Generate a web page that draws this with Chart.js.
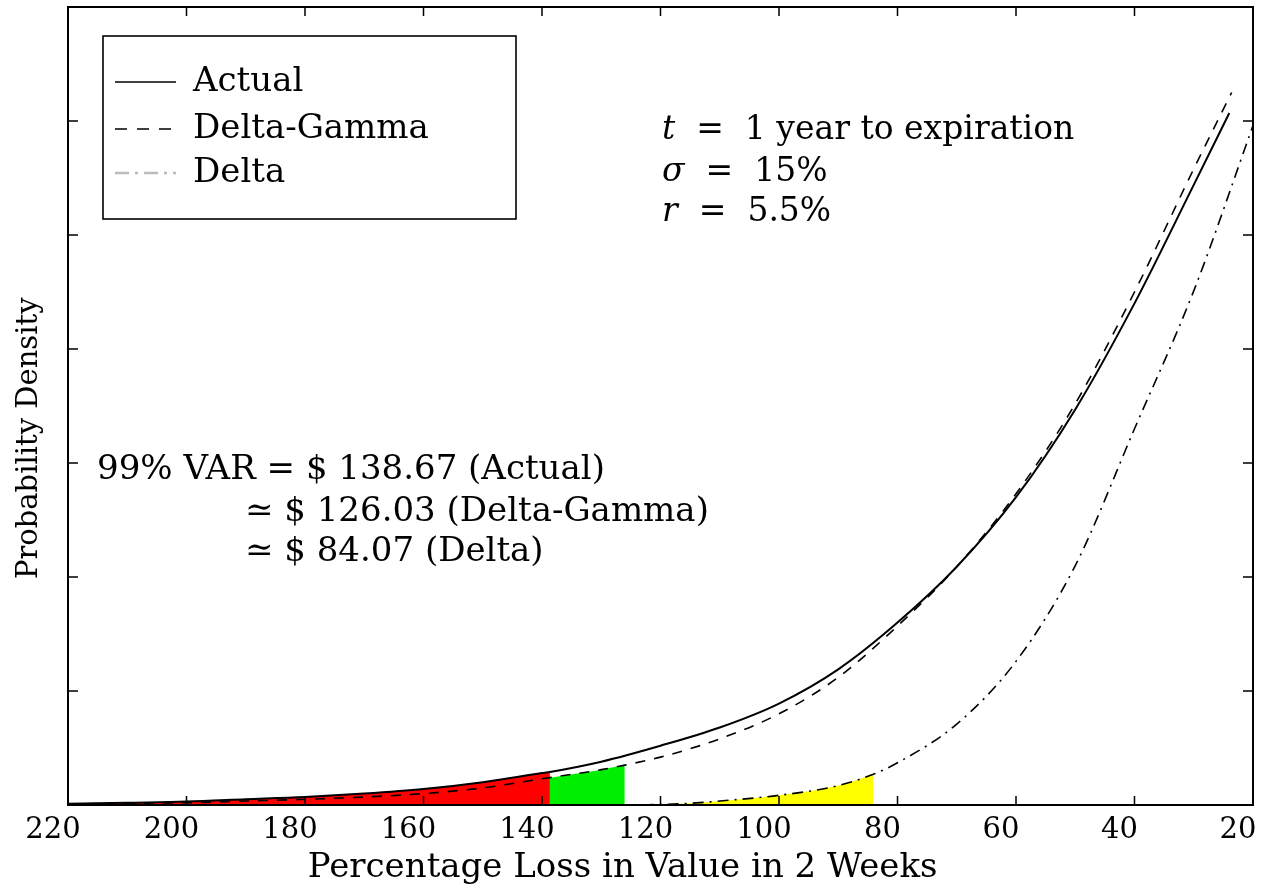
<!DOCTYPE html>
<html lang="en">
<head>
    <meta charset="UTF-8">
    <title>Probability Density of Percentage Loss</title>
    <script src="https://cdn.jsdelivr.net/npm/chart.js"></script>
    <style>
        body {
            margin: 0;
            background-color: #ffffff;
        }
        #chart-container {
            width: 1266px;
            height: 893px;
        }
    </style>
</head>
<body>
    <div id="chart-container">
        <canvas id="varChart"></canvas>
    </div>
    <script>
        // values (x = percentage loss, y = density in tick units)
        const actualLoss = [220, 210, 200, 190, 180, 170, 160, 150, 140, 138.67, 130, 120, 110, 100, 90, 80, 70, 60, 50, 40, 30, 24];
        const actualDensity = [0.01, 0.02, 0.03, 0.05, 0.07, 0.10, 0.14, 0.20, 0.28, 0.29, 0.38, 0.52, 0.68, 0.89, 1.19, 1.60, 2.09, 2.70, 3.47, 4.40, 5.44, 6.07];

        const deltaGammaLoss = [220, 210, 200, 190, 180, 170, 160, 150, 140, 138.67, 130, 126.03, 120, 110, 100, 90, 80, 70, 60, 50, 40, 30, 23.6];
        const deltaGammaDensity = [0.01, 0.015, 0.02, 0.035, 0.05, 0.07, 0.10, 0.15, 0.23, 0.24, 0.31, 0.35, 0.42, 0.58, 0.80, 1.12, 1.57, 2.09, 2.73, 3.52, 4.50, 5.58, 6.25];

        const deltaLoss = [123, 115, 110, 100, 90, 84.07, 80, 70, 60, 50, 40, 30, 20];
        const deltaDensity = [0.0, 0.015, 0.035, 0.085, 0.17, 0.27, 0.37, 0.71, 1.26, 2.10, 3.30, 4.51, 5.96];

        const varActual = 138.67;
        const varDeltaGamma = 126.03;
        const varDelta = 84.07;

        const xTicks = [220, 200, 180, 160, 140, 120, 100, 80, 60, 40, 20];

        const serif = '"DejaVu Serif", "Liberation Serif", serif';

        function toPoints(xs, ys) {
            return xs.map((x, i) => ({ x: x, y: ys[i] }));
        }
        function between(points, lo, hi) {
            return points.filter(p => p.x >= lo - 1e-9 && p.x <= hi + 1e-9);
        }

        const actualPts = toPoints(actualLoss, actualDensity);
        const dgPts = toPoints(deltaGammaLoss, deltaGammaDensity);
        const deltaPts = toPoints(deltaLoss, deltaDensity);

        const lineBase = {
            fill: false,
            pointRadius: 0,
            borderColor: '#000000',
            cubicInterpolationMode: 'monotone',
            order: 0
        };
        const fillBase = {
            fill: 'origin',
            pointRadius: 0,
            borderWidth: 0,
            borderColor: 'rgba(0,0,0,0)',
            cubicInterpolationMode: 'monotone',
            order: 10
        };

        // frame, inward tick marks, legend box and text notes
        const decorations = {
            id: 'decorations',
            afterDatasetsDraw(chart) {
                const ctx = chart.ctx;
                const a = chart.chartArea;
                const xs = chart.scales.x;
                const ys = chart.scales.y;
                ctx.save();
                ctx.strokeStyle = '#000';
                ctx.lineWidth = 2;
                ctx.strokeRect(a.left, a.top, a.right - a.left, a.bottom - a.top);
                ctx.lineWidth = 1.5;
                ctx.beginPath();
                xs.ticks.forEach(t => {
                    const px = xs.getPixelForValue(t.value);
                    ctx.moveTo(px, a.bottom); ctx.lineTo(px, a.bottom - 9);
                    ctx.moveTo(px, a.top); ctx.lineTo(px, a.top + 9);
                });
                ys.ticks.forEach(t => {
                    const py = ys.getPixelForValue(t.value);
                    ctx.moveTo(a.left, py); ctx.lineTo(a.left + 10, py);
                    ctx.moveTo(a.right, py); ctx.lineTo(a.right - 10, py);
                });
                ctx.stroke();
                ctx.restore();
            },
            afterDraw(chart) {
                const ctx = chart.ctx;
                const a = chart.chartArea;
                ctx.save();
                // legend
                const bx = a.left + 35, by = a.top + 29;
                ctx.lineWidth = 1.6;
                ctx.strokeStyle = '#000';
                ctx.strokeRect(bx, by, 413, 183);
                const rows = [
                    { label: 'Actual', dash: [], color: '#000', y: 82 },
                    { label: 'Delta-Gamma', dash: [12, 10], color: '#000', y: 129 },
                    { label: 'Delta', dash: [14, 6, 3, 6], color: '#bbbbbb', y: 173 }
                ];
                ctx.font = '34px ' + serif;
                ctx.textBaseline = 'middle';
                ctx.fillStyle = '#000';
                rows.forEach(r => {
                    ctx.beginPath();
                    ctx.setLineDash(r.dash);
                    ctx.strokeStyle = r.color;
                    ctx.lineWidth = r.color === '#000' ? 1.5 : 2.5;
                    ctx.moveTo(115, r.y);
                    ctx.lineTo(176, r.y);
                    ctx.stroke();
                    ctx.fillText(r.label, 193, r.y);
                });
                ctx.setLineDash([]);

                // text runs: [text, italic]
                function runs(parts, x, y, size) {
                    parts.forEach(p => {
                        ctx.font = (p[1] ? 'italic ' : '') + size + 'px ' + serif;
                        ctx.fillText(p[0], x, y);
                        x += ctx.measureText(p[0]).width;
                    });
                }
                runs([['t', true], ['  =  1 year to expiration', false]], 662, 130, 33);
                runs([['σ', true], ['  =  15%', false]], 662, 172, 33);
                runs([['r', true], ['  =  5.5%', false]], 662, 212, 33);

                runs([['99% VAR = $ 138.67 (Actual)', false]], 97, 470, 34);
                runs([['≃ $ 126.03 (Delta-Gamma)', false]], 245, 512, 34);
                runs([['≃ $ 84.07 (Delta)', false]], 245, 552, 34);
                ctx.restore();
            }
        };

        const ctx = document.getElementById('varChart').getContext('2d');
        const config = {
            type: 'line',
            data: {
                datasets: [
                    Object.assign({}, lineBase, { label: 'Actual', data: actualPts, borderWidth: 2 }),
                    Object.assign({}, lineBase, { label: 'Delta-Gamma', data: dgPts, borderWidth: 1.6, borderDash: [10, 9] }),
                    Object.assign({}, lineBase, { label: 'Delta', data: deltaPts, borderWidth: 1.6, borderDash: [11, 6, 2, 6] }),
                    Object.assign({}, fillBase, { label: 'red', data: between(actualPts, varActual, 220), backgroundColor: '#ff0000' }),
                    Object.assign({}, fillBase, { label: 'green', data: between(dgPts, varDeltaGamma, varActual), backgroundColor: '#00ee00' }),
                    Object.assign({}, fillBase, { label: 'yellow', data: between(deltaPts, varDelta, 220), backgroundColor: '#ffff00' })
                ]
            },
            options: {
                responsive: true,
                maintainAspectRatio: false,
                animation: false,
                layout: { padding: { top: 7, right: 13, left: 0, bottom: 0 } },
                scales: {
                    x: {
                        type: 'linear',
                        reverse: true,
                        min: 20,
                        max: 220,
                        afterBuildTicks: (scale) => { scale.ticks = xTicks.map(v => ({ value: v })); },
                        afterFit: (scale) => { scale.height = 88; scale.paddingRight = 0; },
                        grid: { display: false },
                        border: { display: false },
                        ticks: { color: '#000', font: { family: serif, size: 29 }, padding: 0, labelOffset: -15, maxRotation: 0 },
                        title: { display: true, text: 'Percentage Loss in Value in 2 Weeks       ', color: '#000', font: { family: serif, size: 34 }, padding: { top: 0 } }
                    },
                    y: {
                        min: 0,
                        max: 7,
                        ticks: { display: false, stepSize: 1 },
                        afterFit: (scale) => { scale.width = 68; },
                        grid: { display: false },
                        border: { display: false },
                        title: { display: true, text: 'Probability Density       ', color: '#000', font: { family: serif, size: 29 }, padding: { top: 12, bottom: 0 } }
                    }
                },
                plugins: {
                    legend: { display: false },
                    tooltip: { enabled: false }
                }
            },
            plugins: [decorations]
        };

        const varChart = new Chart(ctx, config);
    </script>
</body>
</html>
